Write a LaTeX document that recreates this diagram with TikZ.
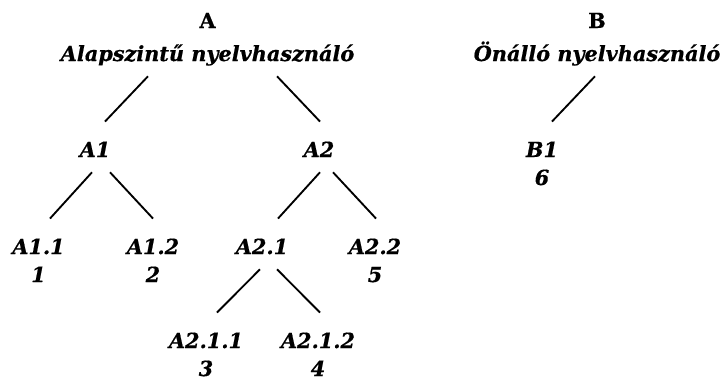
\documentclass[tikz,border=0pt]{standalone}
\usepackage{fontspec}
\setmainfont{DejaVu Serif}[BoldFeatures={FakeBold=0.6},BoldItalicFeatures={FakeBold=0.6}]

% one branch of the tree: parent, x offset at parent, child, x offset at child
\newcommand{\twig}[4]{\draw[twig] ([shift={(#2,15)}]#1.south) -- ([shift={(#4,-20)}]#3.north);}

\begin{document}
\begin{tikzpicture}[x=0.75pt, y=-0.75pt,
                    every node/.style={inner sep=0pt, anchor=base,
                        text height=11.4pt, text depth=0pt,
                        font=\fontsize{15.6}{18}\selectfont\bfseries\itshape},
                    head/.style={font=\fontsize{15.6}{18}\selectfont\bfseries},
                    twig/.style={line width=1.4pt, line cap=butt}
                   ]
\useasboundingbox (0,0) rectangle (727,380);

% level A
\node [head] (A) at (207.5,28) {A};
\node (Aname) at (207.5,61) {Alapszintű nyelvhasználó};
\node (A1) at (95,157) {A1};
\node (A2) at (319,157) {A2};
\node (A11) at (38.5,254) {A1.1};
\node (A11n) at (38.5,282) {1};
\node (A12) at (153,254) {A1.2};
\node (A12n) at (153,282) {2};
\node (A21) at (262,254) {A2.1};
\node (A22) at (375,254) {A2.2};
\node (A22n) at (375,282) {5};
\node (A211) at (206,348) {A2.1.1};
\node (A211n) at (206,376) {3};
\node (A212) at (318,348) {A2.1.2};
\node (A212n) at (318,376) {4};

% level B
\node [head] (B) at (597,28) {B};
\node (Bname) at (597,61) {Önálló nyelvhasználó};
\node (B1) at (542,157) {B1};
\node (B1n) at (542,185) {6};

% branches
\twig{Aname}{-59.5}{A1}{10}
\twig{Aname}{69.5}{A2}{1}
\twig{Bname}{-2}{B1}{10}
\twig{A1}{-3}{A11}{11.5}
\twig{A1}{15}{A12}{0}
\twig{A2}{1}{A21}{16}
\twig{A2}{14}{A22}{1}
\twig{A21}{-2}{A211}{11}
\twig{A21}{15}{A212}{2}
\end{tikzpicture}
\end{document}
